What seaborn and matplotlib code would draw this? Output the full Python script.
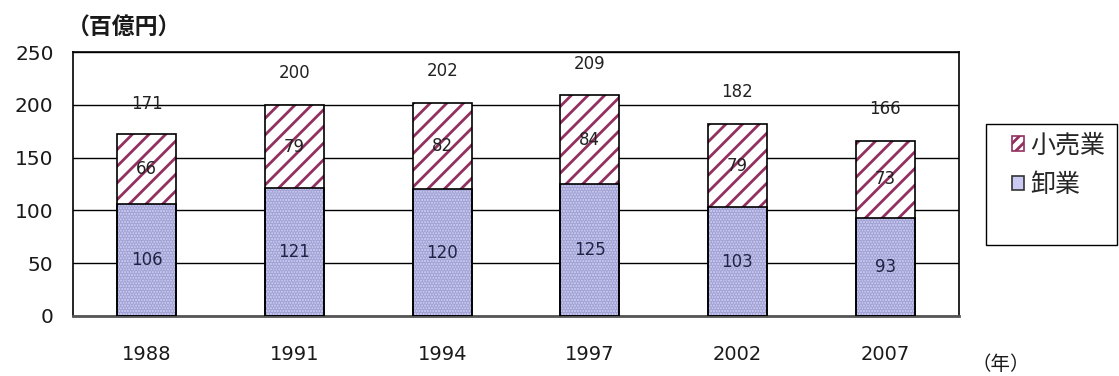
import matplotlib
matplotlib.use("Agg")
import matplotlib.pyplot as plt
import seaborn as sns
import pandas as pd
from matplotlib.patches import Patch, Rectangle

years = ["1988", "1991", "1994", "1997", "2002", "2007"]
wholesale = [106, 121, 120, 125, 103, 93]
retail = [66, 79, 82, 84, 79, 73]
totals = [171, 200, 202, 209, 182, 166]

label_retail = "小売業"
label_wholesale = "卸業"
y_unit = "（百億円）"
x_unit = "（年）"

sns.set_theme(style="white")
plt.rcParams["font.family"] = ["Noto Sans CJK JP", "DejaVu Sans"]
plt.rcParams["hatch.linewidth"] = 2.0
NUM_FONT = ["DejaVu Sans"]

df = pd.DataFrame({"year": years, "wholesale": wholesale, "retail": retail})
df["stack"] = df["wholesale"] + df["retail"]

fig = plt.figure(figsize=(11.19, 3.76), dpi=100)
ax = fig.add_axes([0.0652, 0.1596, 0.7918, 0.7021])

RETAIL_LINE = "#923060"
WHOLE_FILL = "#CACAF4"
WHOLE_DOT = "#A4A4D4"
BAR_W = 0.4


def layer(values, **style):
    n0 = len(ax.patches)
    sns.barplot(data=df, x="year", y=values, ax=ax, width=BAR_W,
                errorbar=None, zorder=style.pop("zorder", 2))
    for p in ax.patches[n0:]:
        p.set(**style)


# retail segment: white base with maroon diagonal stripes
layer("stack", facecolor="white", edgecolor="none", linewidth=0, zorder=2)
layer("stack", facecolor="none", edgecolor=RETAIL_LINE, hatch="//",
      linewidth=0, zorder=3)
# wholesale segment: lavender with fine dots
layer("wholesale", facecolor=WHOLE_FILL, edgecolor="none", linewidth=0, zorder=4)
layer("wholesale", facecolor="none", edgecolor=WHOLE_DOT, hatch="......",
      linewidth=0, zorder=5)
# outlines
layer("stack", facecolor="none", edgecolor="black", linewidth=1.2, zorder=6)
layer("wholesale", facecolor="none", edgecolor="black", linewidth=1.2, zorder=7)

ax.set_ylim(0, 250)
ax.set_xlim(-0.5, len(years) - 0.5)
ax.set_yticks([0, 50, 100, 150, 200, 250])
ax.yaxis.grid(True, color="black", linewidth=1.0)
ax.set_axisbelow(True)
ax.tick_params(axis="y", length=0, pad=14, labelsize=14.5, labelcolor="#1a1a1a")
ax.tick_params(axis="x", which="major", length=0, pad=21, labelsize=14,
               labelcolor="#1a1a1a")
for lab in ax.get_xticklabels() + ax.get_yticklabels():
    lab.set_family(NUM_FONT)
ax.set_xticks([i + 0.5 for i in range(len(years) - 1)], minor=True)
ax.tick_params(axis="x", which="minor", direction="in", length=5,
               width=1.2, color="black")
ax.set_xlabel("")
ax.set_ylabel("")
for s in ax.spines.values():
    s.set_color("black")
    s.set_linewidth(1.2)
ax.spines["bottom"].set_color("#555555")
ax.spines["bottom"].set_linewidth(2)

for i in range(len(years)):
    ax.text(i, wholesale[i] / 2, str(wholesale[i]), ha="center", va="center",
            fontsize=12, color="#222244", zorder=10, family=NUM_FONT)
    ax.text(i, wholesale[i] + retail[i] / 2, str(retail[i]), ha="center",
            va="center", fontsize=12, color="#222222", zorder=10,
            family=NUM_FONT)
    ax.text(i, totals[i] + 30, str(totals[i]), ha="center", va="center",
            fontsize=12, color="#222222", zorder=10, family=NUM_FONT)

fig.text(0.060, 0.924, y_unit, fontsize=16.5, fontweight="bold",
         ha="left", va="center", color="#1a1a1a")
fig.text(0.868, 0.030, x_unit, fontsize=14, ha="left", va="center",
         color="#1a1a1a")

# legend box
fig.patches.append(Rectangle((0.881, 0.348), 0.117, 0.322,
                             transform=fig.transFigure, facecolor="white",
                             edgecolor="black", linewidth=1.0))
handles = [
    Patch(facecolor="white", edgecolor=RETAIL_LINE, hatch="///", linewidth=1.2),
    Patch(facecolor=WHOLE_FILL, edgecolor="#333333", linewidth=1.2),
]
fig.legend(handles, [label_retail, label_wholesale], loc="upper left",
           bbox_to_anchor=(0.893, 0.681), fontsize=18, frameon=False,
           borderpad=0.0, handlelength=0.5, handleheight=0.5,
           handletextpad=0.25, labelspacing=0.55)

fig.savefig("out.png", dpi=100)
